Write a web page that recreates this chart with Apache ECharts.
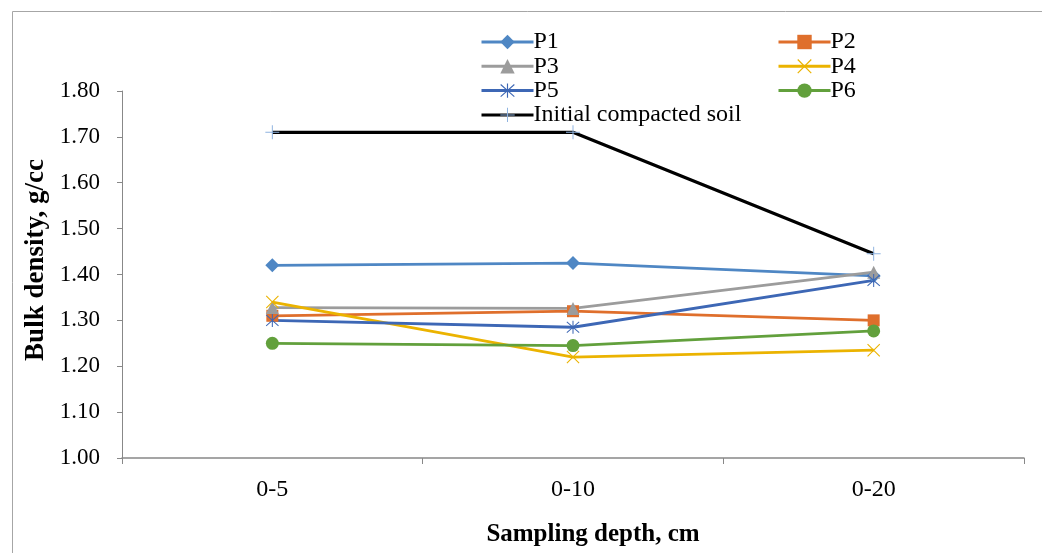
<!DOCTYPE html>
<html>
<head>
<meta charset="utf-8">
<script src="https://cdn.jsdelivr.net/npm/echarts@6/dist/echarts.min.js"></script>
<style>
  html, body { margin: 0; padding: 0; background: #fff; }
  #chart { width: 1042px; height: 553px; }
</style>
</head>
<body>
<div id="chart"></div>
<script>
// Sampling depths and bulk density readings (g/cc)
const depths = ['0-5', '0-10', '0-20'];
const p1 = [1.42, 1.425, 1.397];
const p2 = [1.31, 1.32, 1.30];
const p3 = [1.328, 1.326, 1.405];
const p4 = [1.34, 1.22, 1.235];
const p5 = [1.30, 1.285, 1.387];
const p6 = [1.25, 1.245, 1.277];
const initialSoil = [1.71, 1.71, 1.445];
const yTicks = [1.0, 1.1, 1.2, 1.3, 1.4, 1.5, 1.6, 1.7, 1.8];

// Thin filled marker shapes
const plusPath = 'path://M-0.07,-1 L0.07,-1 L0.07,1 L-0.07,1 Z M-1,-0.07 L1,-0.07 L1,0.07 L-1,0.07 Z';
const crossPath = 'path://M-1,-0.88 L-0.88,-1 L1,0.88 L0.88,1 Z M0.88,-1 L1,-0.88 L-0.88,1 L-1,0.88 Z';
const starPath = 'path://M-1,-0.78 L-0.9,-0.9 L1,0.78 L0.9,0.9 Z M0.9,-0.9 L1,-0.78 L-0.9,0.9 L-1,0.78 Z M-0.08,-1 L0.08,-1 L0.08,1 L-0.08,1 Z';

const serif = '"Liberation Serif", "Times New Roman", serif';

function lineSeries(name, data, color, symbol, size, extra) {
  return Object.assign({
    name: name,
    type: 'line',
    data: data,
    symbol: symbol,
    symbolSize: size,
    showAllSymbol: true,
    lineStyle: { color: color, width: 2.8 },
    itemStyle: { color: color },
    emphasis: { disabled: true },
    animation: false
  }, extra || {});
}

const legendText = { fontFamily: serif, fontSize: 24, color: '#000', lineHeight: 24, padding: [0, 0, 0, -5] };

const chart = echarts.init(document.getElementById('chart'));
chart.setOption({
  animation: false,
  backgroundColor: '#fff',
  grid: { left: 122, right: 18, top: 91, bottom: 95 },
  legend: [
    {
      data: ['P1', 'P3', 'P5', 'Initial compacted soil'],
      orient: 'vertical', left: 475, top: 25,
      itemWidth: 52, itemHeight: 18, itemGap: 0.3,
      lineStyle: { width: 3 },
      textStyle: legendText
    },
    {
      data: ['P2', 'P4', 'P6'],
      orient: 'vertical', left: 772, top: 25,
      itemWidth: 52, itemHeight: 18, itemGap: 0.3,
      lineStyle: { width: 3 },
      textStyle: legendText
    }
  ],
  xAxis: {
    type: 'category',
    data: depths,
    boundaryGap: true,
    axisLine: { lineStyle: { color: '#888', width: 1.5 } },
    axisTick: { show: true, length: 6, lineStyle: { color: '#888' } },
    axisLabel: { fontFamily: serif, fontSize: 24, color: '#000', margin: 20 }
  },
  yAxis: {
    type: 'value',
    min: 1.0, max: 1.8, interval: 0.1,
    axisLine: { show: true, lineStyle: { color: '#888', width: 1 } },
    axisTick: { show: true, length: 5, lineStyle: { color: '#888' } },
    splitLine: { show: false },
    axisLabel: {
      fontFamily: serif, fontSize: 23, color: '#000', margin: 22,
      formatter: v => yTicks.find(t => Math.abs(t - v) < 1e-6).toFixed(2)
    }
  },
  graphic: [
    {
      type: 'rect', left: 10, top: 9, silent: true,
      shape: { width: 1060, height: 560 },
      style: { fill: 'none', stroke: '#a6a6a6', lineWidth: 1 }
    },
    {
      type: 'text', x: 593, y: 535,
      style: { text: 'Sampling depth, cm', font: 'bold 25px ' + serif, fill: '#000', align: 'center', verticalAlign: 'middle' }
    },
    {
      type: 'text', x: 36, y: 260, rotation: Math.PI / 2,
      style: { text: 'Bulk density, g/cc', font: 'bold 27px ' + serif, fill: '#000', align: 'center', verticalAlign: 'middle' }
    }
  ],
  series: [
    lineSeries('P1', p1, '#4f87c4', 'diamond', 14),
    lineSeries('P2', p2, '#df6f2c', 'rect', 12),
    lineSeries('P3', p3, '#9c9c9c', 'triangle', 13),
    lineSeries('P4', p4, '#ebb300', crossPath, 13),
    lineSeries('P5', p5, '#3d67b5', starPath, 13),
    lineSeries('P6', p6, '#62a03c', 'circle', 13),
    lineSeries('Initial compacted soil', initialSoil, '#000', plusPath, 14, {
      lineStyle: { color: '#000', width: 3.2 },
      itemStyle: { color: '#8fb3e0' },
      z: 1
    })
  ]
});
</script>
</body>
</html>
